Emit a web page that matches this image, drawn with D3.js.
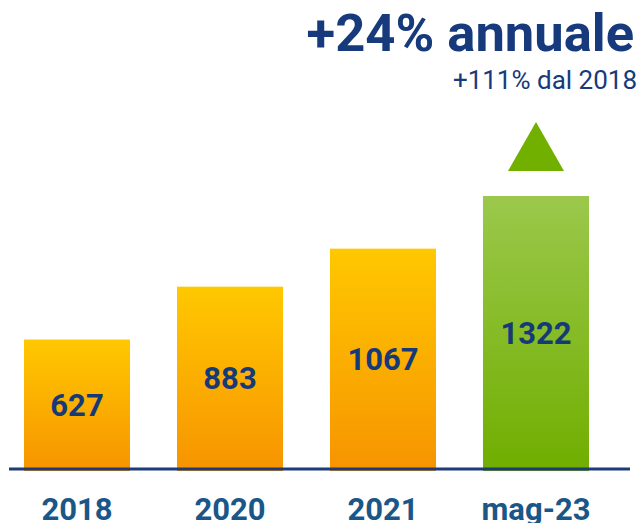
<!DOCTYPE html>
<html><head><meta charset="utf-8">
<script src="https://cdn.jsdelivr.net/npm/d3@7"></script>
<style>html,body{margin:0;padding:0;background:#fff;}svg{display:block;font-family:Roboto,"Noto Sans",sans-serif;}</style>
</head><body>
<script>
const categories = ["2018", "2020", "2021", "mag-23"];
const values = [627, 883, 1067, 1322];
const highlight = [false, false, false, true];
const title = "+24% annuale";
const subtitle = "+111% dal 2018";

const W = 644, H = 523;
const svg = d3.select("body").append("svg").attr("width", W).attr("height", H);
const defs = svg.append("defs");
const gO = defs.append("linearGradient").attr("id","gOrange").attr("x1",0).attr("y1",0).attr("x2",0).attr("y2",1);
gO.append("stop").attr("offset","0%").attr("stop-color","#ffc800");
gO.append("stop").attr("offset","100%").attr("stop-color","#f79400");
const gG = defs.append("linearGradient").attr("id","gGreen").attr("x1",0).attr("y1",0).attr("x2",0).attr("y2",1);
gG.append("stop").attr("offset","0%").attr("stop-color","#9bc84c");
gG.append("stop").attr("offset","100%").attr("stop-color","#70ae00");

const x = d3.scaleBand().domain(categories).range([24, 589]).paddingInner(0.307).paddingOuter(0);
const y = d3.scaleLinear().domain([0, 1322]).range([469, 196]);

const data = categories.map((c,i)=>({c, v: values[i], h: highlight[i]}));

svg.selectAll("rect.bar").data(data).join("rect").attr("class","bar")
  .attr("x", d=>x(d.c)).attr("width", x.bandwidth())
  .attr("y", d=>y(d.v)).attr("height", d=>y(0)-y(d.v)+2)
  .attr("fill", d=>d.h ? "url(#gGreen)" : "url(#gOrange)");

svg.selectAll("text.val").data(data).join("text").attr("class","val")
  .attr("x", d=>x(d.c)+x.bandwidth()/2)
  .attr("y", d=>(y(d.v)+y(0))/2 + 11.5)
  .attr("text-anchor","middle").attr("font-weight","bold").attr("font-size", 31)
  .attr("fill","#163a78").text(d=>d.v);

// baseline
svg.append("line").attr("x1", 9).attr("x2", 630).attr("y1", y(0)).attr("y2", y(0))
  .attr("stroke","#1f3a78").attr("stroke-width",3);

// x axis labels
const xAxis = d3.axisBottom(x).tickSize(0).tickPadding(0);
const ax = svg.append("g").attr("transform", `translate(0,${y(0)})`).call(xAxis);
ax.select(".domain").remove();
ax.selectAll("text").attr("dy", null).attr("y", 51)
  .attr("font-family","Roboto,'Noto Sans',sans-serif").attr("font-weight","bold")
  .attr("font-size", 31).attr("fill","#1a5788");

// triangle
const last = data[data.length-1];
const cx = x(last.c) + x.bandwidth()/2;
const tb = y(last.v) - 25;
svg.append("path").attr("d", `M${cx},${tb-49}L${cx+28},${tb}L${cx-28},${tb}Z`).attr("fill","#72b000");

// titles
svg.append("text").attr("x", 634).attr("y", 51).attr("text-anchor","end")
  .attr("font-weight","bold").attr("font-size", 52.5).attr("fill","#163a7c").text(title);
svg.append("text").attr("x", 637).attr("y", 89).attr("text-anchor","end")
  .attr("font-size", 26).attr("fill","#163a7c").text(subtitle);
</script>
</body></html>
